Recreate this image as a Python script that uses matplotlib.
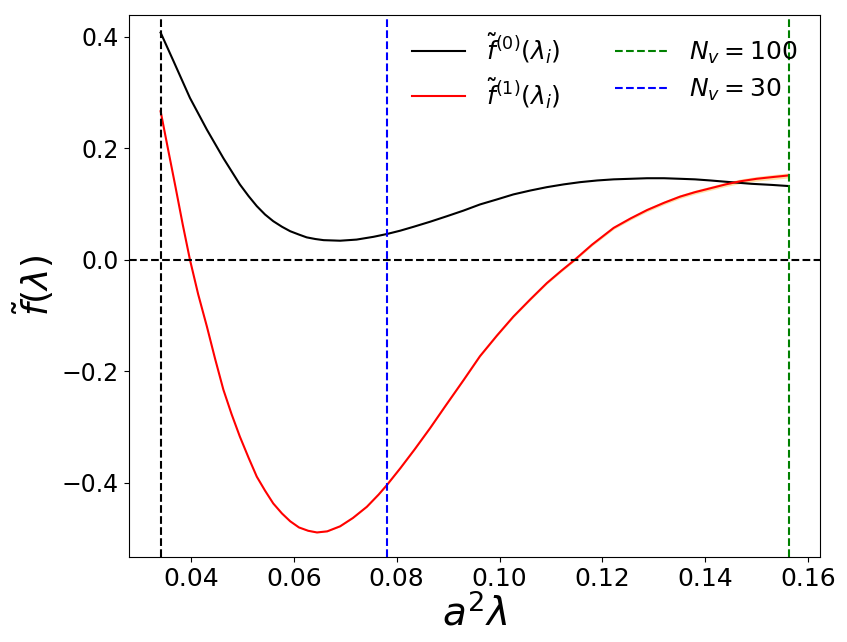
import matplotlib
matplotlib.use("Agg")
import matplotlib.pyplot as plt
import numpy as np

# values
lam0 = [0.0341, 0.0366, 0.0398, 0.0431, 0.0463, 0.0495, 0.0512, 0.0528, 0.0544,
        0.0560, 0.0577, 0.0593, 0.0610, 0.0625, 0.0642, 0.0658, 0.0690, 0.0722,
        0.0755, 0.0781, 0.0807, 0.0833, 0.0865, 0.0898, 0.0930, 0.0962, 0.0995,
        0.1027, 0.1060, 0.1092, 0.1125, 0.1157, 0.1190, 0.1222, 0.1255, 0.1287,
        0.1320, 0.1351, 0.1380, 0.1410, 0.1449, 0.1490, 0.1530, 0.1562]
f0 = [0.407, 0.356, 0.290, 0.233, 0.182, 0.135, 0.114, 0.096, 0.081,
      0.069, 0.059, 0.051, 0.045, 0.040, 0.037, 0.035, 0.034, 0.036,
      0.041, 0.046, 0.052, 0.059, 0.068, 0.078, 0.088, 0.099, 0.108,
      0.117, 0.124, 0.130, 0.135, 0.139, 0.142, 0.144, 0.145, 0.146,
      0.146, 0.145, 0.144, 0.142, 0.139, 0.136, 0.134, 0.132]

lam1 = [0.0341, 0.0355, 0.0370, 0.0384, 0.0398, 0.0414, 0.0431, 0.0447, 0.0463,
        0.0479, 0.0495, 0.0512, 0.0528, 0.0544, 0.0560, 0.0577, 0.0593, 0.0610,
        0.0628, 0.0645, 0.0665, 0.0690, 0.0715, 0.0742, 0.0765, 0.0781, 0.0807,
        0.0835, 0.0865, 0.0895, 0.0930, 0.0962, 0.0995, 0.1027, 0.1060, 0.1092,
        0.1120, 0.1144, 0.1180, 0.1222, 0.1255, 0.1287, 0.1320, 0.1351, 0.1380,
        0.1410, 0.1440, 0.1468, 0.1500, 0.1530, 0.1562]
f1 = [0.266, 0.200, 0.130, 0.063, 0.000, -0.062, -0.120, -0.178, -0.233,
      -0.277, -0.317, -0.355, -0.389, -0.414, -0.437, -0.455, -0.469, -0.480,
      -0.486, -0.489, -0.487, -0.478, -0.463, -0.443, -0.421, -0.404, -0.374,
      -0.340, -0.302, -0.262, -0.216, -0.173, -0.136, -0.102, -0.071, -0.042,
      -0.020, -0.002, 0.027, 0.057, 0.074, 0.089, 0.102, 0.113, 0.121,
      0.128, 0.135, 0.1405, 0.145, 0.148, 0.151]
f1_err = [0.0004, 0.0004, 0.0004, 0.0004, 0.0004, 0.0004, 0.0004, 0.0004, 0.0004,
          0.0004, 0.0004, 0.0004, 0.0005, 0.0005, 0.0005, 0.0005, 0.0005, 0.0005,
          0.0006, 0.0006, 0.0006, 0.0007, 0.0007, 0.0008, 0.0008, 0.0009, 0.0009,
          0.0010, 0.0011, 0.0012, 0.0013, 0.0015, 0.0016, 0.0018, 0.0019, 0.0020,
          0.0021, 0.0022, 0.0024, 0.0026, 0.0028, 0.0030, 0.0032, 0.0033, 0.0035,
          0.0036, 0.0038, 0.0040, 0.0042, 0.0044, 0.0045]

lam_min = 0.0341
lam_30 = 0.0781
lam_100 = 0.1562

lam1 = np.array(lam1)
f1 = np.array(f1)
f1_err = np.array(f1_err)

fig = plt.figure(figsize=(8.47, 6.42), dpi=100)
ax = fig.add_axes([0.152, 0.1324, 0.816, 0.845])

ax.fill_between(lam1, f1 - f1_err, f1 + f1_err, color="orange", alpha=0.35, lw=0)
ax.plot(lam0, f0, color="k", lw=1.5, label=r"$\tilde{f}^{(0)}(\lambda_i)$")
ax.plot(lam1, f1, color="r", lw=1.5, label=r"$\tilde{f}^{(1)}(\lambda_i)$")
ax.axvline(lam_100, color="g", ls="--", lw=1.5, label=r"$N_v=100$")
ax.axvline(lam_30, color="b", ls="--", lw=1.5, label=r"$N_v=30$")
ax.axvline(lam_min, color="k", ls="--", lw=1.5)
ax.axhline(0, color="k", ls="--", lw=1.5)

ax.set_xlim(0.0279, 0.1623)
ax.set_ylim(-0.533, 0.4395)
ax.set_xticks([0.04, 0.06, 0.08, 0.10, 0.12, 0.14, 0.16])
ax.set_yticks([-0.4, -0.2, 0.0, 0.2, 0.4])
ax.tick_params(axis="x", labelsize=18)
ax.tick_params(axis="y", labelsize=17)
ax.set_xlabel(r"$a^2\lambda$", fontsize=28, labelpad=2)
ax.set_ylabel(r"$\tilde{f}(\lambda)$", fontsize=26)
ax.legend(ncol=2, frameon=False, fontsize=18, loc="upper right",
          bbox_to_anchor=(1.0, 1.01), handlelength=2.1, handletextpad=0.85,
          columnspacing=2.2, labelspacing=0.45)

plt.savefig("out.png")
